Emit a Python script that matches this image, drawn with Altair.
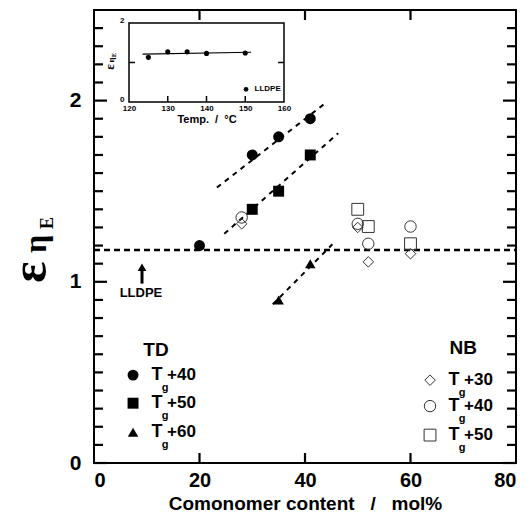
import altair as alt
import pandas as pd

# ---------------- data ----------------
# TD series (filled symbols)
td40_x = [20, 30, 35, 41]
td40_y = [1.20, 1.70, 1.80, 1.90]
td50_x = [30, 35, 41]
td50_y = [1.40, 1.50, 1.70]
td60_x = [35, 41]
td60_y = [0.90, 1.10]
# NB series (open symbols)
nb30_x = [28, 50, 52, 60]
nb30_y = [1.32, 1.30, 1.11, 1.155]
nb40_x = [28, 50, 52, 60]
nb40_y = [1.355, 1.32, 1.21, 1.305]
nb50_x = [50, 52, 60]
nb50_y = [1.40, 1.305, 1.21]
# dashed fit lines (end points)
fit40_x = [23.3, 43.6]
fit40_y = [1.52, 1.98]
fit50_x = [24.7, 46.3]
fit50_y = [1.265, 1.82]
fit60_x = [33.9, 45.2]
fit60_y = [0.876, 1.207]
lldpe_level = 1.175
# inset: LLDPE vs temperature
inset_temp = [125, 130, 135, 140, 150]
inset_val = [1.13, 1.27, 1.27, 1.23, 1.24]
inset_fit_x = [123.5, 151.5]
inset_fit_y = [1.21, 1.26]
# tick values / labels
x_labels = [0, 20, 40, 60, 80]
x_ticks = [20, 40, 60]
y_labels = [0, 1, 2]
y_major = [0, 1, 2]
y_minor = [round(i * 0.1, 1) for i in range(1, 25) if i % 10 != 0]
inset_x_labels = [120, 130, 140, 150, 160]
inset_x_ticks = [130, 140, 150]
inset_y_labels = [0, 1, 2]
inset_y_ticks = [1]
td_labels = ["+40", "+50", "+60"]
nb_labels = ["+30", "+40", "+50"]

FONT = "Liberation Sans"
SERIF = "Liberation Serif"
NB = "\u00a0"

W, H = 422, 453

xs = alt.Scale(domain=[0, 80], nice=False, zero=False)
ys = alt.Scale(domain=[0, 2.5], nice=False, zero=False)

xaxis = alt.Axis(values=x_labels, title="Comonomer content" + NB * 3 + "/" + NB * 3 + "mol%",
                 ticks=False, domain=False, grid=False, labelFont=FONT, labelFontWeight="bold",
                 labelFontSize=20, labelPadding=7, labelColor="black", titleFont=FONT,
                 titleFontWeight="bold", titleFontSize=19, titlePadding=4, titleColor="black",
                 format="d")
yaxis = alt.Axis(values=y_labels, title=None, ticks=False, domain=False, grid=False,
                 labelFont=FONT, labelFontWeight="bold", labelFontSize=21, labelPadding=13,
                 labelColor="black", format="d")


def X(f):
    return alt.X(f, type="quantitative", scale=xs, axis=xaxis)


def Y(f):
    return alt.Y(f, type="quantitative", scale=ys, axis=yaxis)


def pts(xv, yv):
    return pd.DataFrame({"x": xv, "y": yv})


layers = []

# dashed fit lines
fit_df = pd.concat([
    pd.DataFrame({"x": fit40_x, "y": fit40_y, "g": "a"}),
    pd.DataFrame({"x": fit50_x, "y": fit50_y, "g": "b"}),
    pd.DataFrame({"x": fit60_x, "y": fit60_y, "g": "c"}),
])
layers.append(alt.Chart(fit_df).mark_line(color="black", strokeWidth=2, strokeDash=[5, 5])
              .encode(x=X("x"), y=Y("y"), detail="g:N"))
lv_df = pd.DataFrame({"x": [0, 80], "y": [lldpe_level, lldpe_level]})
layers.append(alt.Chart(lv_df).mark_line(color="black", strokeWidth=2.5, strokeDash=[6, 4])
              .encode(x=X("x"), y=Y("y")))

# inward ticks on all four sides
ymin_df = pd.DataFrame({"ty": y_minor})
ymaj_df = pd.DataFrame({"ty": y_major})
xt_df = pd.DataFrame({"tx": x_ticks})
tk = dict(color="black", strokeWidth=2.2)
layers.append(alt.Chart(ymin_df).mark_rule(**tk).encode(y=Y("ty"), x=alt.value(0), x2=alt.value(9)))
layers.append(alt.Chart(ymin_df).mark_rule(**tk).encode(y=Y("ty"), x=alt.value(W), x2=alt.value(W - 9)))
layers.append(alt.Chart(ymaj_df).mark_rule(**tk).encode(y=Y("ty"), x=alt.value(0), x2=alt.value(13)))
layers.append(alt.Chart(ymaj_df).mark_rule(**tk).encode(y=Y("ty"), x=alt.value(W), x2=alt.value(W - 13)))
layers.append(alt.Chart(xt_df).mark_rule(**tk).encode(x=X("tx"), y=alt.value(H), y2=alt.value(H - 10)))
layers.append(alt.Chart(xt_df).mark_rule(**tk).encode(x=X("tx"), y=alt.value(0), y2=alt.value(10)))

# filled TD symbols
layers.append(alt.Chart(pts(td40_x, td40_y)).mark_point(shape="circle", filled=True, size=120,
              color="black", opacity=1).encode(x=X("x"), y=Y("y")))
layers.append(alt.Chart(pts(td50_x, td50_y)).mark_point(shape="square", filled=True, size=120,
              color="black", opacity=1).encode(x=X("x"), y=Y("y")))
layers.append(alt.Chart(pts(td60_x, td60_y)).mark_point(shape="triangle-up", filled=True, size=110,
              color="black", opacity=1).encode(x=X("x"), y=Y("y")))
# open NB symbols
layers.append(alt.Chart(pts(nb30_x, nb30_y)).mark_point(shape="diamond", filled=False, size=110,
              color="#333333", strokeWidth=1, opacity=1).encode(x=X("x"), y=Y("y")))
layers.append(alt.Chart(pts(nb40_x, nb40_y)).mark_point(shape="circle", filled=False, size=130,
              color="#333333", strokeWidth=1, opacity=1).encode(x=X("x"), y=Y("y")))
layers.append(alt.Chart(pts(nb50_x, nb50_y)).mark_point(shape="square", filled=False, size=140,
              color="#333333", strokeWidth=1, opacity=1).encode(x=X("x"), y=Y("y")))

# LLDPE arrow + label
arrow_df = pd.DataFrame({"x": [9.1], "y0": [0.99], "y1": [1.06], "yh": [1.08]})
layers.append(alt.Chart(arrow_df).mark_rule(color="black", strokeWidth=3)
              .encode(x=X("x"), y=Y("y0"), y2="y1"))
layers.append(alt.Chart(arrow_df).mark_point(shape="triangle-up", filled=True, size=75,
              color="black", opacity=1).encode(x=X("x"), y=Y("yh")))
layers.append(alt.Chart(pd.DataFrame({"x": [8.9], "y": [0.94], "t": ["LLDPE"]}))
              .mark_text(font=FONT, fontWeight="bold", fontSize=13, color="black")
              .encode(x=X("x"), y=Y("y"), text="t:N"))

# group headers
layers.append(alt.Chart(pd.DataFrame({"x": [11.75, 70.0], "y": [0.625, 0.634], "t": ["TD", "NB"]}))
              .mark_text(font=FONT, fontWeight="bold", fontSize=19, color="black")
              .encode(x=X("x"), y=Y("y"), text="t:N"))

# legend symbols
td_leg_x = 7.4
nb_leg_x = 63.7
td_leg_y = [0.485, 0.33, 0.17]
nb_leg_y = [0.457, 0.314, 0.154]
layers.append(alt.Chart(pts([td_leg_x], [td_leg_y[0]])).mark_point(shape="circle", filled=True, size=120,
              color="black", opacity=1).encode(x=X("x"), y=Y("y")))
layers.append(alt.Chart(pts([td_leg_x], [td_leg_y[1]])).mark_point(shape="square", filled=True, size=120,
              color="black", opacity=1).encode(x=X("x"), y=Y("y")))
layers.append(alt.Chart(pts([td_leg_x], [td_leg_y[2]])).mark_point(shape="triangle-up", filled=True, size=110,
              color="black", opacity=1).encode(x=X("x"), y=Y("y")))
layers.append(alt.Chart(pts([nb_leg_x], [nb_leg_y[0]])).mark_point(shape="diamond", filled=False, size=110,
              color="#333333", strokeWidth=1, opacity=1).encode(x=X("x"), y=Y("y")))
layers.append(alt.Chart(pts([nb_leg_x], [nb_leg_y[1]])).mark_point(shape="circle", filled=False, size=130,
              color="#333333", strokeWidth=1, opacity=1).encode(x=X("x"), y=Y("y")))
layers.append(alt.Chart(pts([nb_leg_x], [nb_leg_y[2]])).mark_point(shape="square", filled=False, size=140,
              color="#333333", strokeWidth=1, opacity=1).encode(x=X("x"), y=Y("y")))

# legend texts  T_g +NN
leg_df = pd.DataFrame({
    "x": [td_leg_x] * 3 + [nb_leg_x] * 3,
    "y": td_leg_y + nb_leg_y,
    "n": td_labels + nb_labels,
    "T": ["T"] * 6,
    "g": ["g"] * 6,
})
layers.append(alt.Chart(leg_df).mark_text(font=FONT, fontWeight="bold", fontSize=18, dx=24,
              color="black").encode(x=X("x"), y=Y("y"), text="T:N"))
layers.append(alt.Chart(leg_df).mark_text(font=FONT, fontWeight="bold", fontSize=11, dx=32, dy=13,
              color="black").encode(x=X("x"), y=Y("y"), text="g:N"))
layers.append(alt.Chart(leg_df).mark_text(font=FONT, fontWeight="bold", fontSize=17, dx=34,
              align="left", color="black").encode(x=X("x"), y=Y("y"), text="n:N"))

# y-axis title  ε_ηE (rotated)
ttl = pd.DataFrame({"a": ["ε"], "b": ["η"], "c": ["E"]})
layers.append(alt.Chart(ttl).mark_text(font=SERIF, fontWeight="bold", fontSize=50, angle=270,
              color="black").encode(x=alt.value(-63), y=alt.value(262), text="a:N"))
layers.append(alt.Chart(ttl).mark_text(font=SERIF, fontWeight="bold", fontSize=32, angle=270,
              color="black").encode(x=alt.value(-58), y=alt.value(234), text="b:N"))
layers.append(alt.Chart(ttl).mark_text(font=SERIF, fontWeight="bold", fontSize=18, angle=270,
              color="black").encode(x=alt.value(-46), y=alt.value(213), text="c:N"))

main = alt.layer(*layers)

# ---------------- inset ----------------
ixs = alt.Scale(domain=[120, 160], range=[35, 190], nice=False, zero=False)
iys = alt.Scale(domain=[0, 2], range=[92, 13], nice=False, zero=False)
ixaxis = alt.Axis(orient="bottom", offset=92 - H, values=inset_x_labels,
                  title="Temp." + NB * 2 + "/" + NB * 2 + "°C",
                  ticks=False, domain=False, grid=False, labelFont=FONT, labelFontWeight="bold",
                  labelFontSize=8, labelPadding=2, labelFlush=False, labelColor="black",
                  titleFont=FONT, titleFontWeight="bold", titleFontSize=11, titlePadding=1,
                  titleColor="black", format="d")
iyaxis = alt.Axis(orient="left", offset=-35, values=inset_y_labels, title=None, ticks=False,
                  domain=False, grid=False, labelFont=FONT, labelFontWeight="bold", labelFontSize=8,
                  labelPadding=5, labelOffset=-3, labelColor="black", labelFlush=False, format="d")


def IX(f):
    return alt.X(f, type="quantitative", scale=ixs, axis=ixaxis)


def IY(f):
    return alt.Y(f, type="quantitative", scale=iys, axis=iyaxis)


ilayers = []
frame_df = pd.DataFrame({"x0": [120], "x1": [160], "y0": [0], "y1": [2]})
ilayers.append(alt.Chart(frame_df).mark_rect(fillOpacity=0, stroke="black", strokeWidth=1.5)
               .encode(x=IX("x0"), x2="x1", y=IY("y0"), y2="y1"))
ilayers.append(alt.Chart(pd.DataFrame({"x": inset_fit_x, "y": inset_fit_y}))
               .mark_line(color="black", strokeWidth=1.2).encode(x=IX("x"), y=IY("y")))
ilayers.append(alt.Chart(pd.DataFrame({"x": inset_temp, "y": inset_val}))
               .mark_circle(color="black", size=26, opacity=1).encode(x=IX("x"), y=IY("y")))
itk = dict(color="black", strokeWidth=1.5)
ilayers.append(alt.Chart(pd.DataFrame({"itx": inset_x_ticks})).mark_rule(**itk)
               .encode(x=IX("itx"), y=alt.value(92), y2=alt.value(86)))
ilayers.append(alt.Chart(pd.DataFrame({"ity": inset_y_ticks})).mark_rule(**itk)
               .encode(y=IY("ity"), x=alt.value(35), x2=alt.value(41)))
ilayers.append(alt.Chart(pd.DataFrame({"ity": inset_y_ticks})).mark_rule(**itk)
               .encode(y=IY("ity"), x=alt.value(190), x2=alt.value(184)))
ilayers.append(alt.Chart(pd.DataFrame({"x": [150.2], "y": [0.32]}))
               .mark_circle(color="black", size=22, opacity=1).encode(x=IX("x"), y=IY("y")))
ilayers.append(alt.Chart(pd.DataFrame({"x": [152.4], "y": [0.32], "t": ["LLDPE"]}))
               .mark_text(font=FONT, fontWeight="bold", fontSize=8, align="left", color="black")
               .encode(x=IX("x"), y=IY("y"), text="t:N"))
ittl = pd.DataFrame({"a": ["ε"], "b": ["η"], "c": ["E"]})
ilayers.append(alt.Chart(ittl).mark_text(font=SERIF, fontWeight="bold", fontSize=13, angle=270,
               color="black").encode(x=alt.value(16), y=alt.value(57), text="a:N"))
ilayers.append(alt.Chart(ittl).mark_text(font=SERIF, fontWeight="bold", fontSize=9, angle=270,
               color="black").encode(x=alt.value(17), y=alt.value(50), text="b:N"))
ilayers.append(alt.Chart(ittl).mark_text(font=SERIF, fontWeight="bold", fontSize=6, angle=270,
               color="black").encode(x=alt.value(20), y=alt.value(45), text="c:N"))
inset = alt.layer(*ilayers)

chart = (
    alt.layer(main, inset)
    .resolve_scale(x="independent", y="independent")
    .resolve_axis(x="independent", y="independent")
    .properties(width=W, height=H, padding={"left": 94, "top": 10, "right": 13, "bottom": 52},
                autosize=alt.AutoSizeParams(type="none"), background="white")
    .configure_view(stroke="black", strokeWidth=2)
)

chart.save("out.html", embed_options={"renderer": "svg", "actions": False})
